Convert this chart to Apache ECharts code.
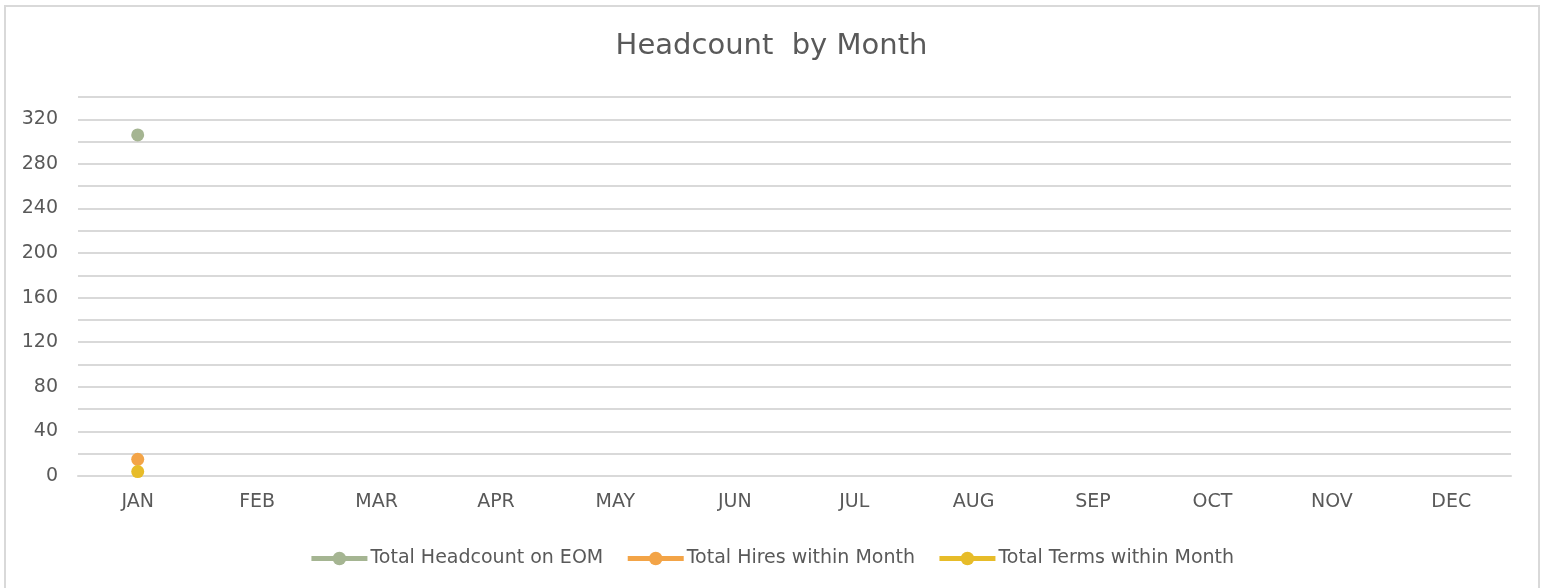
<!DOCTYPE html>
<html>
<head>
<meta charset="utf-8">
<script src="https://cdn.jsdelivr.net/npm/echarts@6/dist/echarts.min.js"></script>
<style>
  html, body { margin: 0; padding: 0; background: #fff; }
  #chart { width: 1543px; height: 588px; }
</style>
</head>
<body>
<div id="chart"></div>
<script>
// data
var months = ['JAN', 'FEB', 'MAR', 'APR', 'MAY', 'JUN', 'JUL', 'AUG', 'SEP', 'OCT', 'NOV', 'DEC'];
var headcount = [306, null, null, null, null, null, null, null, null, null, null, null];
var hires = [15, null, null, null, null, null, null, null, null, null, null, null];
var terms = [4, null, null, null, null, null, null, null, null, null, null, null];

var FONT = 'DejaVu Sans';
var TXT = '#595959';

var chart = echarts.init(document.getElementById('chart'));

function mkSeries(name, data, color) {
  return {
    name: name,
    type: 'line',
    data: data,
    symbol: 'circle',
    symbolSize: 13,
    showSymbol: true,
    itemStyle: { color: color },
    lineStyle: { color: color, width: 5 }
  };
}

var option = {
  animation: false,
  backgroundColor: '#fff',
  graphic: [{
    type: 'rect',
    shape: { x: 5, y: 6, width: 1534, height: 600 },
    style: { fill: 'none', stroke: '#d9d9d9', lineWidth: 2 }
  }],
  title: {
    text: 'Headcount  by Month',
    left: 'center',
    top: 27,
    textStyle: { fontFamily: FONT, fontSize: 29, fontWeight: 'normal', color: TXT }
  },
  legend: {
    bottom: 15,
    left: 'center',
    itemWidth: 56,
    itemHeight: 17,
    itemGap: 22,
    lineStyle: { width: 5 },
    textStyle: { fontFamily: FONT, fontSize: 19, color: TXT, padding: [0, 0, 0, -2] },
    data: ['Total Headcount on EOM', 'Total Hires within Month', 'Total Terms within Month']
  },
  grid: { left: 78, right: 32, top: 97, bottom: 112, containLabel: false },
  xAxis: {
    type: 'category',
    data: months,
    boundaryGap: true,
    axisLine: { show: true, lineStyle: { color: '#d9d9d9', width: 2 } },
    axisTick: { show: false },
    axisLabel: { margin: 17, fontFamily: FONT, fontSize: 19, color: TXT }
  },
  yAxis: {
    type: 'value',
    min: 0,
    max: 340,
    interval: 20,
    axisLine: { show: false },
    axisTick: { show: false },
    splitLine: { lineStyle: { color: '#d9d9d9', width: 2 } },
    axisLabel: {
      margin: 20,
      fontFamily: FONT,
      fontSize: 19,
      color: TXT,
      lineHeight: 19,
      padding: [10, 0, 0, 0],
      formatter: function (v) { return v % 40 === 0 ? String(v) : ''; }
    }
  },
  series: [
    mkSeries('Total Headcount on EOM', headcount, '#a5b592'),
    mkSeries('Total Hires within Month', hires, '#f3a447'),
    mkSeries('Total Terms within Month', terms, '#e7bc29')
  ]
};

chart.setOption(option);
</script>
</body>
</html>
